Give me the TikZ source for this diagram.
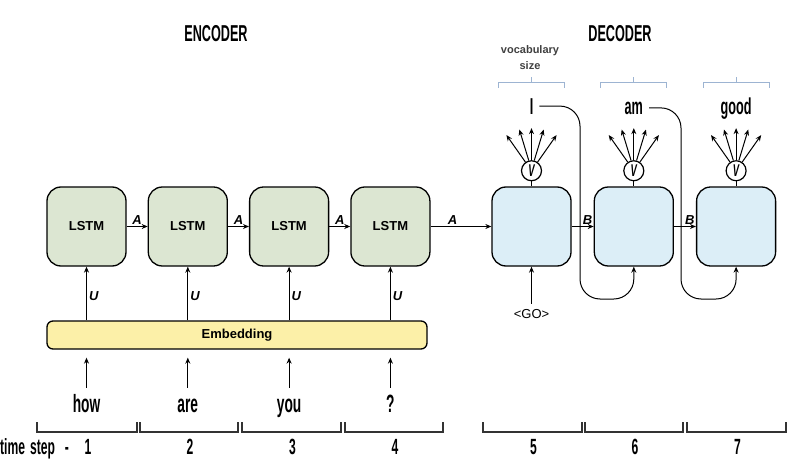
\documentclass[tikz,border=0pt]{standalone}
\usepackage{fontspec}
\setmainfont{Liberation Sans}
\newfontfamily\condfont[FakeStretch=0.55]{Liberation Sans Bold}
\usetikzlibrary{arrows.meta,positioning,calc}

\definecolor{lstmgreen}{HTML}{DCE6D2}
\definecolor{decblue}{HTML}{DCEEF7}
\definecolor{embyellow}{HTML}{FCF0A8}
\definecolor{bracecol}{HTML}{9DB4D2}

\begin{document}
\begin{tikzpicture}[
  x=1pt, y=-1pt,
  cell/.style={draw, line width=1.3pt, rounded corners=14pt, minimum width=79pt,
               minimum height=79pt, inner sep=0pt,
               font=\bfseries\fontsize{13}{13}\selectfont},
  enc/.style={cell, fill=lstmgreen},
  dec/.style={cell, fill=decblue},
  title/.style={font=\condfont\fontsize{23}{23}\selectfont},
  word/.style={font=\condfont\fontsize{25}{25}\selectfont, inner sep=1pt,
               text height=17pt, text depth=5pt, anchor=base},
  outword/.style={font=\condfont\fontsize{23}{23}\selectfont, inner sep=1pt, anchor=base},
  stepnum/.style={font=\condfont\fontsize{22}{22}\selectfont, inner sep=0pt, anchor=base},
  wlabel/.style={font=\bfseries\itshape\fontsize{13}{13}\selectfont, inner sep=2pt},
  arrow/.style={-{Stealth[length=6pt,width=5pt]}, line width=1pt},
  vnode/.style={draw, circle, line width=1.2pt, minimum size=20pt, inner sep=0pt,
                font=\condfont\itshape\fontsize{17}{17}\selectfont},
  bracket/.style={line width=1.3pt, draw=black!80},
  brace/.style={draw=bracecol, line width=1pt}
]
\useasboundingbox (0,0) rectangle (797,468);

\node[title] (enct) at (216,34) {ENCODER};
\node[title] (dect) at (620,34) {DECODER};

% encoder side
\node[enc] (e1) at (86.5,226.5) {LSTM};
\node[enc, right=21pt of e1] (e2) {LSTM};
\node[enc, right=21pt of e2] (e3) {LSTM};
\node[enc, right=21pt of e3] (e4) {LSTM};
\node[draw, fill=embyellow, rounded corners=6pt, line width=1.3pt,
      minimum width=380pt, minimum height=28pt, inner sep=0pt,
      font=\bfseries\fontsize{13}{13}\selectfont] (emb) at (237,335) {Embedding};

\draw[arrow] (e1) -- node[wlabel, above] {A} (e2);
\draw[arrow] (e2) -- node[wlabel, above] {A} (e3);
\draw[arrow] (e3) -- node[wlabel, above] {A} (e4);

\foreach \w [count=\i] in {how, are, you, ?} {
  \node[word] (w\i) at (e\i.south |- 0,412) {\w};
  \draw[arrow, shorten <=6pt, shorten >=8pt] (w\i.north) -- (w\i.north |- emb.south);
  \draw[arrow] (e\i.south |- emb.north) -- node[wlabel, right, pos=0.45] {U} (e\i.south);
}

% decoder side
\node[dec] (d1) at (531.5,226.5) {};
\node[dec, right=22pt of d1] (d2) {};
\node[dec, right=22pt of d2] (d3) {};

\draw[arrow] (e4) -- node[wlabel, above, pos=0.36] {A} (d1);
\draw[arrow] (d1) -- node[wlabel, above, pos=0.72] {B} (d2);
\draw[arrow] (d2) -- node[wlabel, above, pos=0.72] {B} (d3);

\node[font=\fontsize{13}{13}\selectfont] (go) at (531.5,314) {<GO>};
\draw[arrow, shorten <=2pt] (go.north) -- (d1.south);

\foreach \o [count=\i] in {I, am, good} {
  \node[vnode, above=5pt of d\i] (v\i) {V};
  \draw[line width=1.2pt] (v\i.south) -- (d\i.north);
  \foreach \a/\dx/\dy in {125/-19/-27, 105/-9.4/-31, 90/0/-32, 75/9.4/-31, 55/19/-27}
    \draw[arrow] (v\i.\a) -- ++(\dx,\dy);
  \node[outword] (o\i) at (v\i.south |- 0,114) {\o};
  \draw[brace] ($(v\i.south |- 0,88) + (-33,0)$) -- ++(0,-5) -- ++(66,0) -- ++(0,5);
  \draw[brace] (v\i.south |- 0,83) -- (v\i.south |- 0,77);
}
\node[align=center, font=\bfseries\fontsize{11}{16}\selectfont, text=black!75] (vocab)
  at (530,58) {vocabulary\\size};

% feed previous output back in
\draw[arrow, rounded corners=20pt, shorten <=5pt] (o1.east) -| (580,299) -| (d2.south);
\draw[arrow, rounded corners=20pt, shorten <=5pt] (o2.east) -| (681,299) -| (d3.south);

% time steps
\foreach \a/\b [count=\n] in {37/137, 140/238, 242/341, 345/443, 483/582, 585/683, 687/786} {
  \draw[bracket] (\a,422) -- (\a,432) -- (\b,432) -- (\b,422);
  \node[stepnum] (t\n) at ({(\a+\b)/2+1},454) {\n};
}
\node[stepnum, anchor=base west] (tslabel) at (0,454) {time\hspace{5pt}step\hspace{10pt}-};
\end{tikzpicture}
\end{document}
